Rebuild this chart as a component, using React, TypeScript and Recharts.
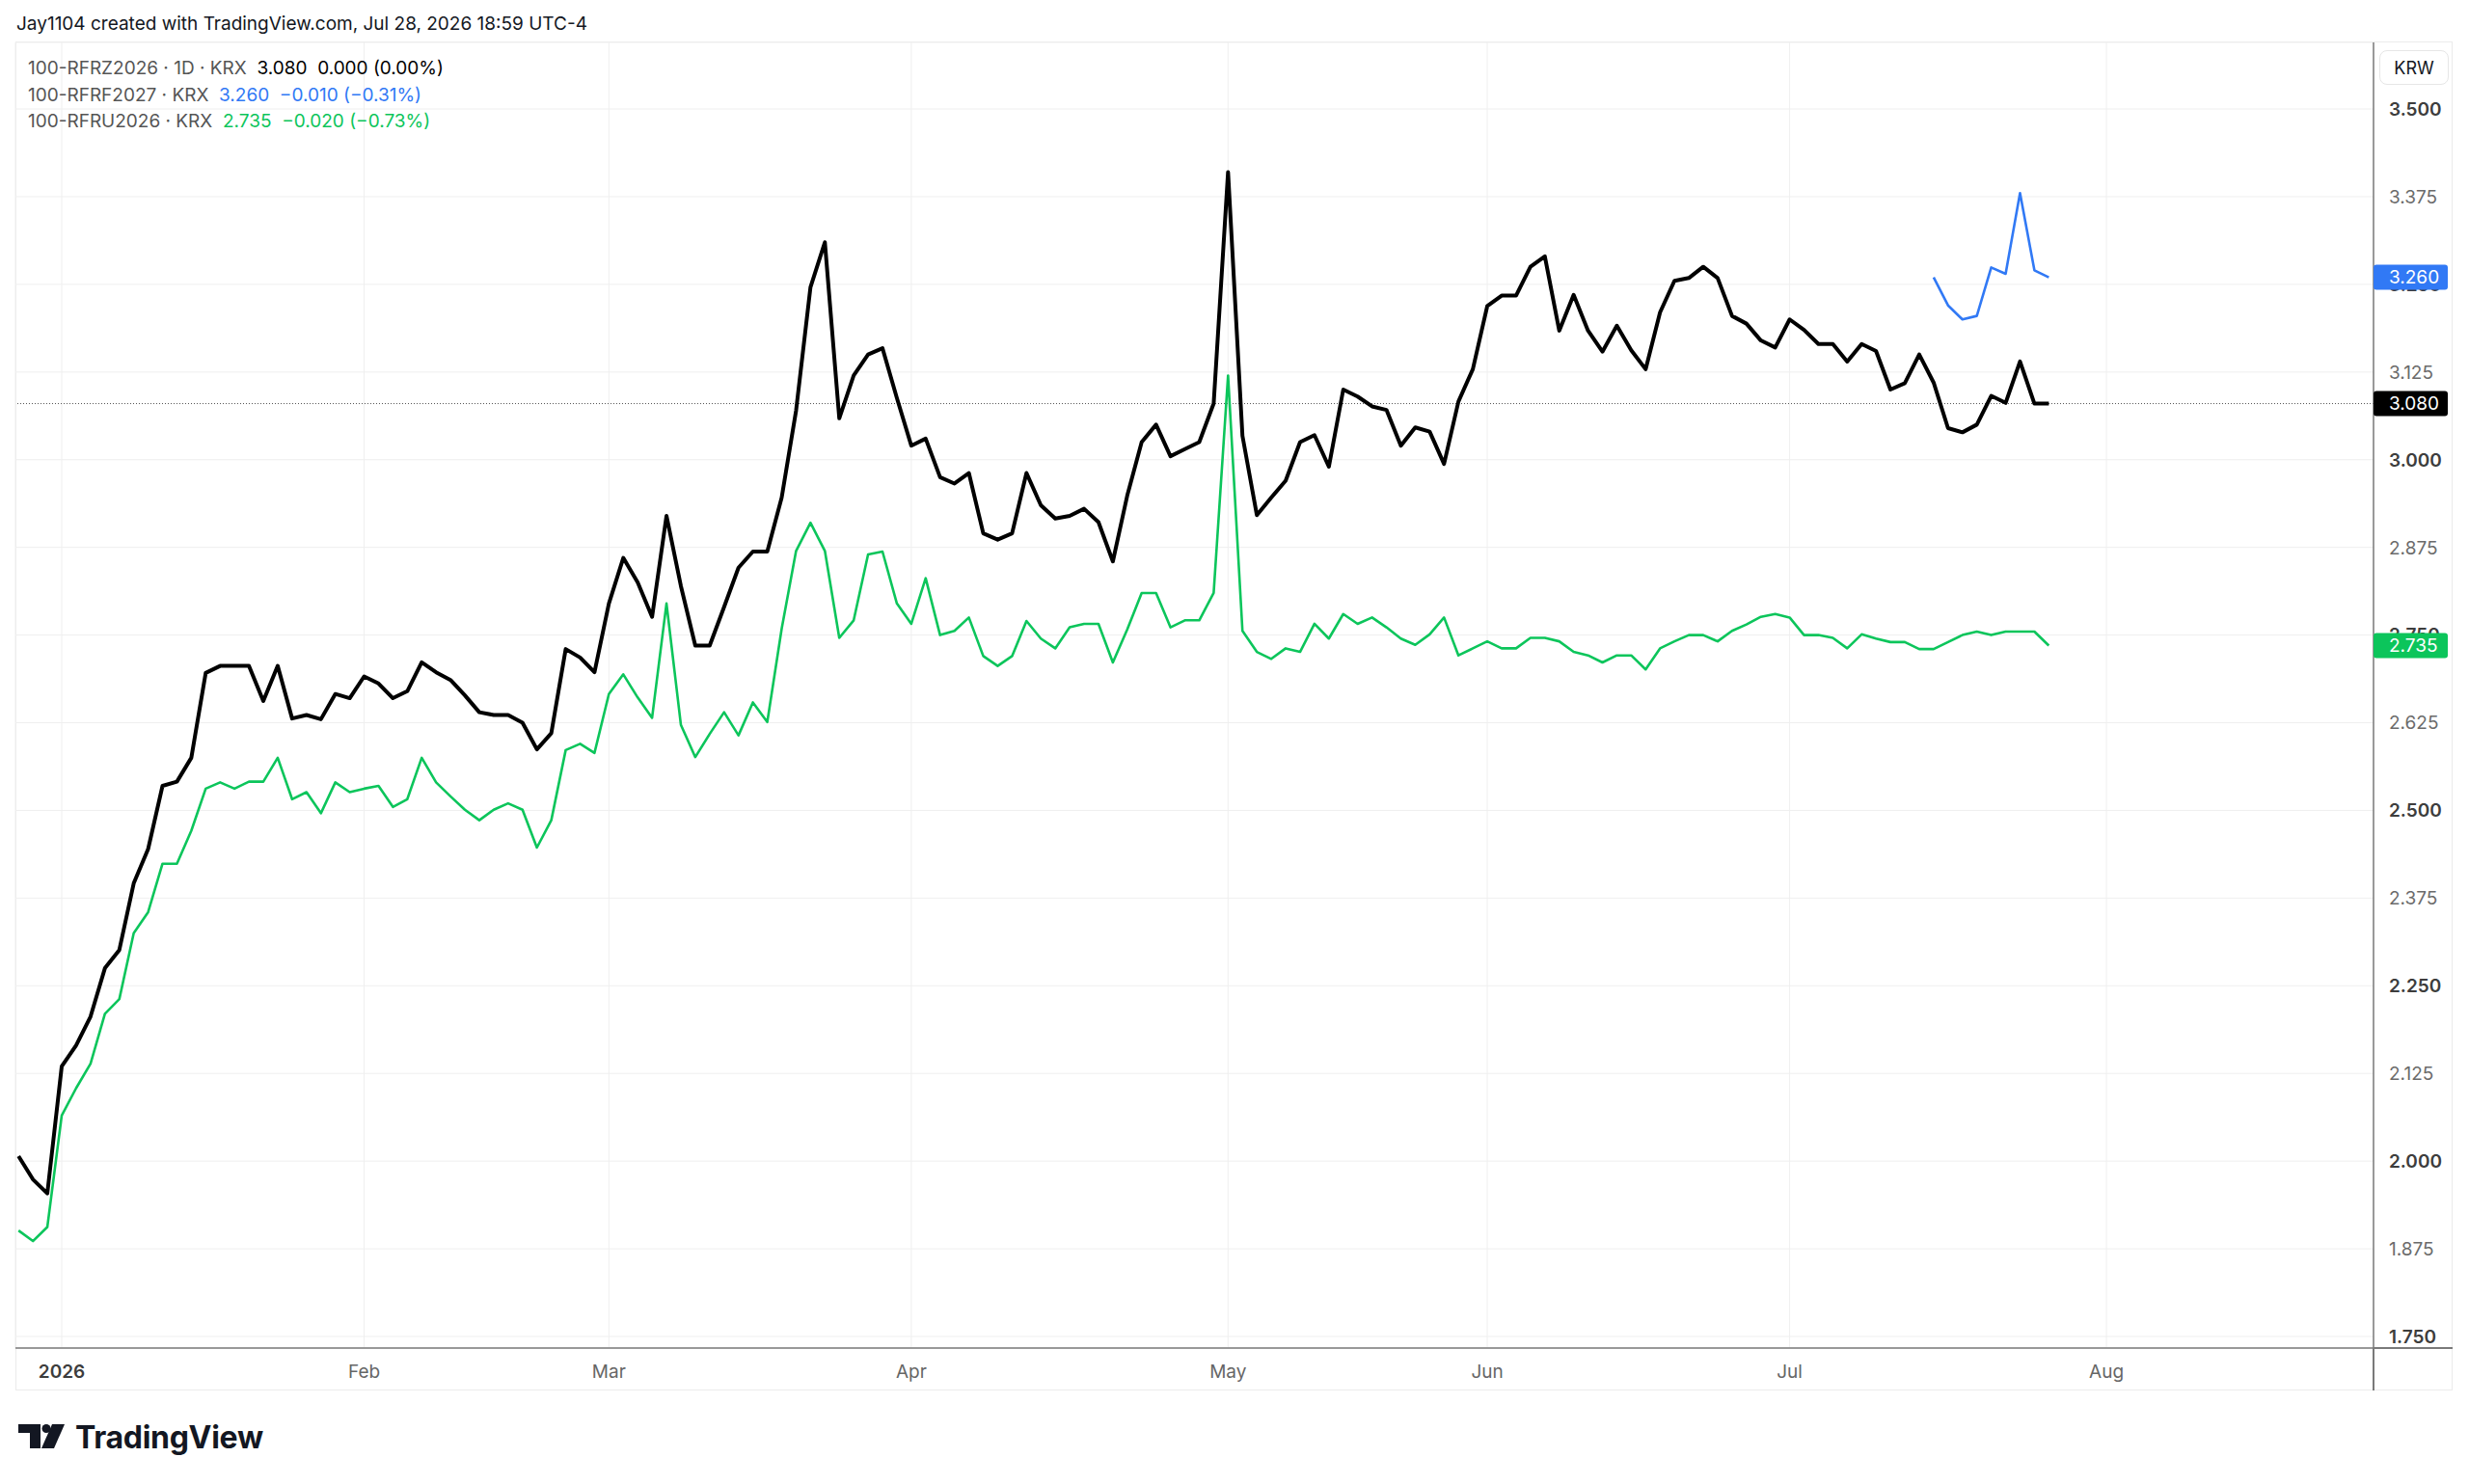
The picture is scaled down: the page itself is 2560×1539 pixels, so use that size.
import React from 'react';
import { LineChart, Line, XAxis, YAxis, CartesianGrid, ReferenceLine } from 'recharts';

// bar index of the first value (Jan 2 2026 = bar 0)
const firstBar = -3;

// 100-RFRZ2026, daily closes
const rfrz2026 = [
  2.007, 1.974, 1.954,
  2.135, 2.165, 2.206, 2.275, 2.301, 2.396, 2.445, 2.535, 2.541, 2.575,
  2.696, 2.706, 2.706, 2.706, 2.656, 2.706, 2.631, 2.636, 2.630, 2.666,
  2.660, 2.691, 2.681, 2.660, 2.670, 2.711, 2.697, 2.686, 2.664, 2.640,
  2.636, 2.636, 2.625, 2.587, 2.610, 2.730, 2.718, 2.697, 2.795, 2.860,
  2.825, 2.776, 2.920, 2.820, 2.735, 2.735, 2.790, 2.846, 2.869, 2.869,
  2.946, 3.070, 3.246, 3.310, 3.059, 3.120, 3.150, 3.159, 3.088, 3.020,
  3.030, 2.975, 2.966, 2.981, 2.895, 2.886, 2.895, 2.981, 2.935, 2.916,
  2.920, 2.930, 2.911, 2.855, 2.949, 3.025, 3.050, 3.005, 3.015, 3.025,
  3.080, 3.410, 3.034, 2.921, 2.946, 2.970, 3.025, 3.035, 2.990, 3.100,
  3.090, 3.076, 3.071, 3.020, 3.046, 3.040, 2.994, 3.083, 3.129, 3.219,
  3.234, 3.234, 3.275, 3.290, 3.184, 3.235, 3.184, 3.154, 3.191, 3.156,
  3.129, 3.210, 3.255, 3.259, 3.275, 3.259, 3.205, 3.194, 3.170, 3.160,
  3.200, 3.185, 3.165, 3.165, 3.140, 3.165, 3.155, 3.100, 3.109, 3.150,
  3.110, 3.045, 3.039, 3.050, 3.091, 3.081, 3.140, 3.080, 3.080,
];

// 100-RFRU2026, same bars
const rfru2026 = [
  1.901, 1.886, 1.906,
  2.065, 2.104, 2.139, 2.210, 2.231, 2.325, 2.355, 2.424, 2.424, 2.471,
  2.531, 2.540, 2.531, 2.541, 2.541, 2.575, 2.516, 2.526, 2.496, 2.540,
  2.526, 2.531, 2.535, 2.505, 2.516, 2.575, 2.540, 2.520, 2.501, 2.486,
  2.501, 2.510, 2.501, 2.447, 2.486, 2.586, 2.595, 2.582, 2.666, 2.694,
  2.661, 2.632, 2.795, 2.622, 2.576, 2.609, 2.640, 2.607, 2.654, 2.626,
  2.759, 2.870, 2.910, 2.870, 2.746, 2.771, 2.865, 2.869, 2.795, 2.766,
  2.831, 2.750, 2.756, 2.775, 2.720, 2.706, 2.720, 2.770, 2.745, 2.731,
  2.761, 2.766, 2.766, 2.711, 2.758, 2.810, 2.810, 2.761, 2.771, 2.771,
  2.810, 3.120, 2.756, 2.726, 2.716, 2.731, 2.726, 2.766, 2.745, 2.780,
  2.766, 2.775, 2.761, 2.745, 2.736, 2.751, 2.775, 2.721, 2.731, 2.741,
  2.731, 2.731, 2.746, 2.746, 2.741, 2.726, 2.721, 2.711, 2.721, 2.721,
  2.701, 2.731, 2.741, 2.750, 2.750, 2.741, 2.756, 2.765, 2.776, 2.780,
  2.775, 2.750, 2.750, 2.746, 2.731, 2.751, 2.745, 2.740, 2.740, 2.730,
  2.730, 2.740, 2.750, 2.755, 2.750, 2.755, 2.755, 2.755, 2.735,
];

// 100-RFRF2027 only trades from bar 130
const rfrf2027Start = 130;
const rfrf2027 = [3.260, 3.220, 3.200, 3.205, 3.274, 3.265, 3.380, 3.270, 3.260];

const monthBars = [0, 21, 38, 59, 81, 99, 120, 142];
const monthLabels = ['2026', 'Feb', 'Mar', 'Apr', 'May', 'Jun', 'Jul', 'Aug'];

const priceTicks = [1.75, 1.875, 2, 2.125, 2.25, 2.375, 2.5, 2.625, 2.75, 2.875, 3, 3.125, 3.25, 3.375, 3.5];

const BLACK = '#000000';
const BLUE = '#3179f5';
const GREEN = '#0cc55b';

const data = rfrz2026.map((v, i) => {
  const bar = firstBar + i;
  const j = bar - rfrf2027Start;
  return {
    bar,
    rfrz: v,
    rfru: rfru2026[i],
    rfrf: j >= 0 && j < rfrf2027.length ? rfrf2027[j] : null,
  };
});

const lastRfrz = rfrz2026[rfrz2026.length - 1];
const lastRfru = rfru2026[rfru2026.length - 1];
const lastRfrf = rfrf2027[rfrf2027.length - 1];

const MonthTick = (props: any) => {
  const { x, y, payload } = props;
  const idx = monthBars.indexOf(payload.value);
  const bold = idx === 0;
  return (
    <text x={x} y={y} dy="0.36em" textAnchor="middle" fontSize={19}
      fontWeight={bold ? 600 : 400} fill={bold ? '#3d3d3d' : '#666666'}>
      {monthLabels[idx]}
    </text>
  );
};

const PriceTick = (props: any) => {
  const { x, y, payload } = props;
  const v = payload.value;
  const bold = Math.abs(v * 4 - Math.round(v * 4)) < 1e-6;
  return (
    <text x={x} y={y} dy="0.36em" textAnchor="start" fontSize={19}
      fontWeight={bold ? 600 : 400} fill={bold ? '#3d3d3d' : '#6b6b6b'}>
      {v.toFixed(3)}
    </text>
  );
};

const priceTag = (value: number, bg: string) => (props: any) => {
  const { x, y, width } = props.viewBox;
  const left = x + width;
  return (
    <g>
      <rect x={left} y={y - 13} width={77} height={26} rx={3} fill={bg} />
      <text x={left + 16} y={y} dy="0.36em" fontSize={19} fill="#ffffff">{value.toFixed(3)}</text>
    </g>
  );
};

export default function App() {
  return (
    <div style={{
      position: 'absolute', left: 0, top: 0, width: 2560, height: 1539, background: '#ffffff',
      fontFamily: 'Inter, "Noto Sans", sans-serif', color: '#131722', overflow: 'hidden',
    }}>
      <div style={{ position: 'absolute', left: 17, top: 13, fontSize: 19, lineHeight: '24px' }}>
        Jay1104 created with TradingView.com, Jul 28, 2026 18:59 UTC-4
      </div>

      <div style={{
        position: 'absolute', left: 16, top: 43, width: 2527, height: 1399,
        border: '1px solid #ebebeb', boxSizing: 'border-box',
      }} />

      <div style={{ position: 'absolute', left: 0, top: 0 }}>
        <LineChart width={2560} height={1539} data={data}
          margin={{ top: 44, right: 17, bottom: 97, left: 16 }}>
          <CartesianGrid stroke="#efefef" strokeWidth={1} />
          <XAxis dataKey="bar" type="number" domain={[-3.215, 160.55]} allowDataOverflow
            ticks={monthBars} interval={0} height={44} tickSize={0} tickMargin={24}
            tickLine={false} axisLine={{ stroke: '#7a7a7a', strokeWidth: 1.5 }} tick={<MonthTick />} />
          <YAxis orientation="right" type="number" domain={[1.7335, 3.5949]} allowDataOverflow
            ticks={priceTicks} interval={0} width={82} tickSize={0} tickMargin={16}
            tickLine={false} axisLine={{ stroke: '#7a7a7a', strokeWidth: 1.5 }} tick={<PriceTick />} />
          <ReferenceLine y={lastRfrz} stroke="#555555" strokeWidth={1} strokeDasharray="1 2" />
          <Line dataKey="rfru" stroke={GREEN} strokeWidth={2.6} dot={false} isAnimationActive={false}
            strokeLinejoin="round" />
          <Line dataKey="rfrf" stroke={BLUE} strokeWidth={2.6} dot={false} isAnimationActive={false}
            strokeLinejoin="round" connectNulls={false} />
          <Line dataKey="rfrz" stroke={BLACK} strokeWidth={4} dot={false} isAnimationActive={false}
            strokeLinejoin="round" />
          <ReferenceLine y={lastRfrf} stroke="none" zIndex={3000} label={priceTag(lastRfrf, BLUE)} />
          <ReferenceLine y={lastRfrz} stroke="none" zIndex={3000} label={priceTag(lastRfrz, BLACK)} />
          <ReferenceLine y={lastRfru} stroke="none" zIndex={3000} label={priceTag(lastRfru, GREEN)} />
        </LineChart>
      </div>

      {/* axis line extensions into the scale corner */}
      <div style={{ position: 'absolute', left: 2460, top: 1398, width: 1.5, height: 44, background: '#7a7a7a' }} />
      <div style={{ position: 'absolute', left: 2461, top: 1397, width: 82, height: 1.5, background: '#7a7a7a' }} />

      <div style={{
        position: 'absolute', left: 2467, top: 52, width: 72, height: 36, border: '1px solid #e6e6e6',
        borderRadius: 8, boxSizing: 'border-box', display: 'flex', alignItems: 'center',
        justifyContent: 'center', fontSize: 18, background: '#fff',
      }}>KRW</div>

      <div style={{ position: 'absolute', left: 29, top: 57, fontSize: 19, lineHeight: '27.5px', whiteSpace: 'pre' }}>
        <div>
          <span style={{ color: '#555' }}>100-RFRZ2026 · 1D · KRX  </span>
          <span style={{ color: '#000' }}>3.080  0.000 (0.00%)</span>
        </div>
        <div>
          <span style={{ color: '#555' }}>100-RFRF2027 · KRX  </span>
          <span style={{ color: BLUE }}>3.260  −0.010 (−0.31%)</span>
        </div>
        <div>
          <span style={{ color: '#555' }}>100-RFRU2026 · KRX  </span>
          <span style={{ color: GREEN }}>2.735  −0.020 (−0.73%)</span>
        </div>
      </div>

      <svg style={{ position: 'absolute', left: 0, top: 1470 }} width={320} height={45}>
        <g transform="translate(19,7)" fill="#131722">
          <path d="M0 0 H23 V25 H12 V9 H0 Z" />
          <circle cx={29} cy={4.5} r={4.5} />
          <path d="M35 0 H48 L37 25 H24 Z" />
        </g>
        <text x={78} y={32} fontSize={32} fontWeight={700} fill="#131722" letterSpacing={-0.3}>TradingView</text>
      </svg>
    </div>
  );
}
